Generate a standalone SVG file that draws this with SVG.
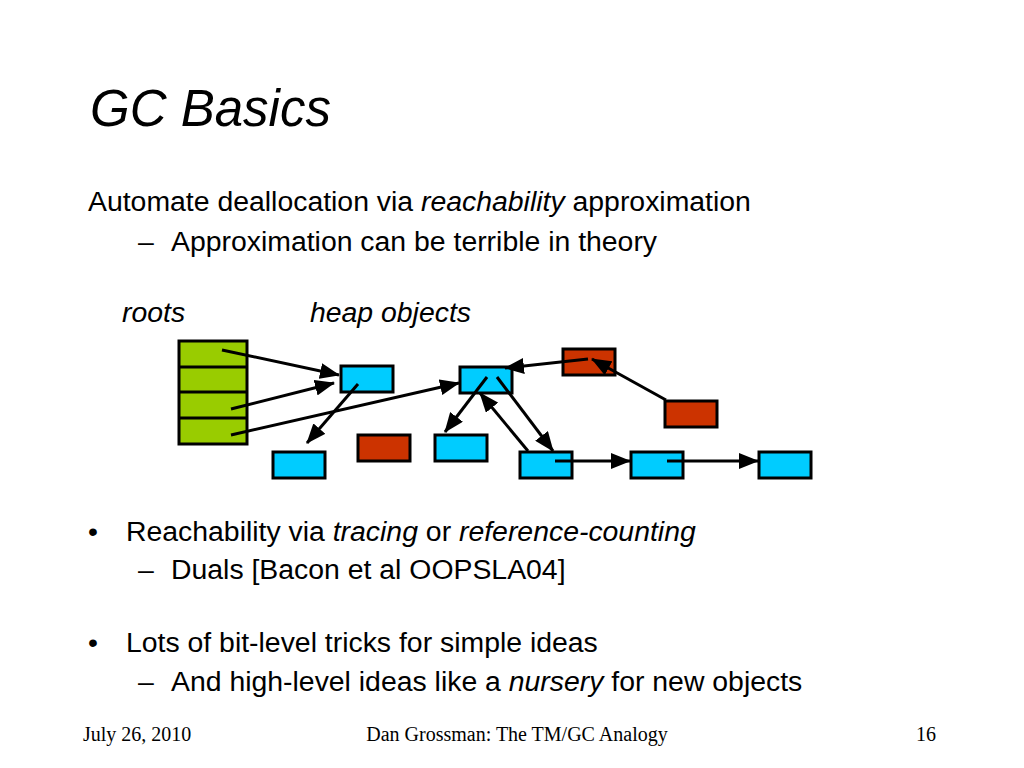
<svg xmlns="http://www.w3.org/2000/svg" width="1024" height="768" viewBox="0 0 1024 768">
<style>
.t{font-family:"Liberation Sans",Arial,sans-serif;fill:#000}
.b{font-size:28.4px}
.f{font-family:"Liberation Serif","Times New Roman",serif;font-size:20px;fill:#000}
.blue{fill:#00ccff;stroke:#000;stroke-width:3}
.red{fill:#cc3300;stroke:#000;stroke-width:3}
.green{fill:#99cc00;stroke:#000;stroke-width:3}
.c line{stroke:#000;stroke-width:3;marker-end:url(#ah)}
</style>
<defs>
<marker id="ah" markerUnits="userSpaceOnUse" markerWidth="21" markerHeight="16" refX="19" refY="8" orient="auto">
<path d="M0,0 L20,8 L0,16 Z" fill="#000"/>
</marker>
</defs>
<rect width="1024" height="768" fill="#fff"/>
<text class="t" x="90" y="126" font-size="51" font-style="italic">GC Basics</text>
<text class="t b" x="88" y="211">Automate deallocation via <tspan font-style="italic">reachability</tspan> approximation</text>
<text class="t b" x="138" y="251">–</text>
<text class="t b" x="171" y="251">Approximation can be terrible in theory</text>
<text class="t b" x="122" y="322" font-style="italic">roots</text>
<text class="t b" x="310" y="322" font-style="italic">heap objects</text>

<g id="roots">
<rect class="green" x="179" y="341" width="68" height="103"/>
<line x1="179" y1="367" x2="247" y2="367" stroke="#000" stroke-width="3"/>
<line x1="179" y1="392" x2="247" y2="392" stroke="#000" stroke-width="3"/>
<line x1="179" y1="418" x2="247" y2="418" stroke="#000" stroke-width="3"/>
</g>
<g id="n1"><rect class="blue" x="341" y="366" width="52" height="26"/></g>
<g id="n2"><rect class="blue" x="460" y="367" width="52" height="26"/></g>
<g id="n3"><rect class="red" x="563" y="349" width="52" height="26"/></g>
<g id="n4"><rect class="red" x="665" y="401" width="52" height="26"/></g>
<g id="n5"><rect class="blue" x="273" y="452" width="52" height="26"/></g>
<g id="n6"><rect class="red" x="358" y="435" width="52" height="26"/></g>
<g id="n7"><rect class="blue" x="435" y="435" width="52" height="26"/></g>
<g id="n8"><rect class="blue" x="520" y="452" width="52" height="26"/></g>
<g id="n9"><rect class="blue" x="631" y="452" width="52" height="26"/></g>
<g id="n10"><rect class="blue" x="759" y="452" width="52" height="26"/></g>

<g id="connectors" class="c">
<line x1="222" y1="350" x2="339" y2="375"/>
<line x1="231" y1="409" x2="334" y2="383"/>
<line x1="231" y1="435" x2="459" y2="383"/>
<line x1="358" y1="384" x2="307" y2="443"/>
<line x1="487" y1="377" x2="445" y2="432"/>
<line x1="497" y1="377" x2="553" y2="451"/>
<line x1="528" y1="451" x2="480" y2="393"/>
<line x1="588" y1="359" x2="505" y2="368"/>
<line x1="666" y1="400" x2="592" y2="359"/>
<line x1="555" y1="461" x2="630" y2="461"/>
<line x1="667" y1="461" x2="758" y2="461"/>
</g>

<text class="t b" x="88" y="541">•</text>
<text class="t b" x="126" y="541">Reachability via <tspan font-style="italic">tracing</tspan> or <tspan font-style="italic">reference-counting</tspan></text>
<text class="t b" x="138" y="579">–</text>
<text class="t b" x="171" y="579">Duals [Bacon et al OOPSLA04]</text>
<text class="t b" x="88" y="652">•</text>
<text class="t b" x="126" y="652">Lots of bit-level tricks for simple ideas</text>
<text class="t b" x="138" y="691">–</text>
<text class="t b" x="171" y="691">And high-level ideas like a <tspan font-style="italic">nursery</tspan> for new objects</text>

<text class="f" x="83" y="741">July 26, 2010</text>
<text class="f" x="517" y="741" text-anchor="middle">Dan Grossman: The TM/GC Analogy</text>
<text class="f" x="936" y="741" text-anchor="end">16</text>
</svg>
